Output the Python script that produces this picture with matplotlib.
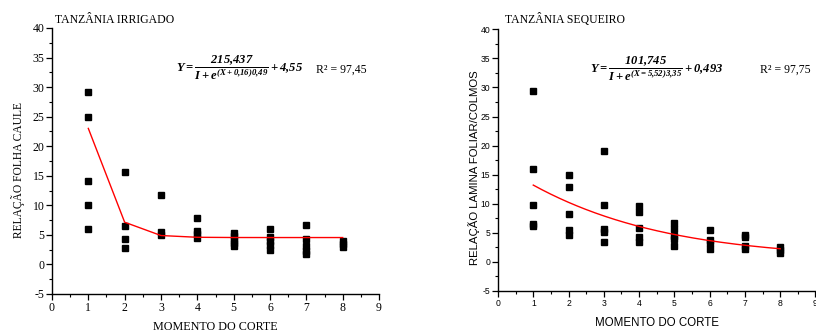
import numpy as np
import matplotlib
matplotlib.use("Agg")
import matplotlib.pyplot as plt
from matplotlib.ticker import MultipleLocator

plt.rcParams["axes.unicode_minus"] = False
plt.rcParams["mathtext.fontset"] = "custom"
plt.rcParams["mathtext.rm"] = "Liberation Serif:bold:italic"
plt.rcParams["mathtext.it"] = "Liberation Serif:bold:italic"
plt.rcParams["mathtext.bf"] = "Liberation Serif:bold:italic"

# Tanzânia irrigado: leaf/stem ratio per cutting moment
irr_x = [1, 1, 1, 1, 1,
         2, 2, 2, 2,
         3, 3, 3,
         4, 4, 4, 4,
         5, 5, 5, 5, 5,
         6, 6, 6, 6, 6,
         7, 7, 7, 7, 7,
         8, 8, 8]
irr_y = [29.2, 25.0, 14.1, 10.1, 6.0,
         15.7, 6.5, 4.3, 2.7,
         11.7, 5.5, 5.0,
         7.9, 5.7, 5.2, 4.5,
         5.4, 4.8, 4.1, 3.6, 3.1,
         6.0, 4.6, 4.0, 3.3, 2.5,
         6.6, 4.3, 3.2, 2.2, 1.8,
         3.9, 3.4, 3.0]
irr_params = (215.437, 0.16, 0.49, 4.55)   # a, x0, b, c
irr_r2 = "97,45"

# Tanzânia sequeiro: leaf blade/stem ratio per cutting moment
seq_x = [1, 1, 1, 1, 1,
         2, 2, 2, 2, 2,
         3, 3, 3, 3, 3,
         4, 4, 4, 4, 4,
         5, 5, 5, 5, 5,
         6, 6, 6, 6,
         7, 7, 7, 7,
         8, 8, 8]
seq_y = [29.4, 15.9, 9.8, 6.5, 6.2,
         15.0, 12.9, 8.2, 5.5, 4.6,
         19.1, 9.8, 5.6, 5.1, 3.4,
         9.6, 8.5, 5.8, 4.3, 3.4,
         6.7, 5.6, 4.4, 3.9, 2.8,
         5.5, 3.8, 3.2, 2.2,
         4.7, 4.2, 2.7, 2.2,
         2.6, 2.0, 1.6]
seq_params = (101.745, 5.52, 3.35, 0.493)
seq_r2 = "97,75"


def logistic(x, a, x0, b, c):
    x = np.asarray(x, dtype=float)
    return a / (1.0 + np.exp((x + x0) / b)) + c


fig = plt.figure(figsize=(8.16, 3.36), dpi=100)

ax1 = fig.add_axes([0.0637, 0.125, 0.4008, 0.7917])
ax2 = fig.add_axes([0.6103, 0.134, 0.3890, 0.7788])


def style_axes(ax, tick_font, tick_size):
    ax.set_xlim(0, 9)
    ax.set_ylim(-5, 40)
    for s in ("top", "right"):
        ax.spines[s].set_visible(False)
    for s in ("left", "bottom"):
        ax.spines[s].set_linewidth(1.0)
    ax.xaxis.set_major_locator(MultipleLocator(1))
    ax.xaxis.set_minor_locator(MultipleLocator(0.5))
    ax.yaxis.set_major_locator(MultipleLocator(5))
    ax.yaxis.set_minor_locator(MultipleLocator(2.5))
    ax.tick_params(which="major", direction="out", length=4, width=0.9,
                   pad=1.5, labelsize=tick_size)
    ax.tick_params(which="minor", direction="out", length=2, width=0.8)
    for lab in ax.get_xticklabels() + ax.get_yticklabels():
        lab.set_family(tick_font)


# left panel
style_axes(ax1, "Liberation Serif", 8.5)
ax1.plot(irr_x, irr_y, "s", color="black", markersize=4.8)
xi = np.arange(1, 9)
ax1.plot(xi, logistic(xi, *irr_params), color="red", lw=1.0)
ax1.set_xlabel("MOMENTO DO CORTE", family="Liberation Serif", fontsize=8.7)
ax1.xaxis.set_label_coords(0.5, -0.1)
ax1.set_ylabel("RELAÇÃO FOLHA CAULE", family="Liberation Serif", fontsize=8.3)
ax1.yaxis.set_label_coords(-0.083, 0.466)
fig.text(0.067, 0.932, "TANZÂNIA IRRIGADO", family="Liberation Serif", fontsize=8.5)
ax1.text(5.15, 33.2,
         r"$Y = \dfrac{215{,}437}{I + e^{(X+0{,}16)0{,}49}} + 4{,}55$",
         fontsize=9, ha="center", va="center")
ax1.text(7.27, 33.0, "R² = " + irr_r2, family="Liberation Serif", fontsize=8.5,
         ha="left", va="center")

# right panel
style_axes(ax2, "Liberation Sans", 6.2)
ax2.plot(seq_x, seq_y, "s", color="black", markersize=4.8)
xs = np.linspace(1, 8, 200)
ax2.plot(xs, logistic(xs, *seq_params), color="red", lw=1.0)
ax2.set_xlabel("MOMENTO DO CORTE", family="Liberation Sans", fontsize=8.3)
ax2.xaxis.set_label_coords(0.5, -0.098)
ax2.set_ylabel("RELAÇÃO LAMINA FOLIAR/COLMOS", family="Liberation Sans", fontsize=8.2)
ax2.yaxis.set_label_coords(-0.057, 0.473)
fig.text(0.619, 0.932, "TANZÂNIA SEQUEIRO", family="Liberation Serif", fontsize=8.5)
ax2.text(4.5, 33.2,
         r"$Y = \dfrac{101{,}745}{I + e^{(X=5{,}52)3{,}35}} + 0{,}493$",
         fontsize=9, ha="center", va="center")
ax2.text(7.43, 33.0, "R² = " + seq_r2, family="Liberation Serif", fontsize=8.5,
         ha="left", va="center")

fig.savefig("out.png", dpi=100)
